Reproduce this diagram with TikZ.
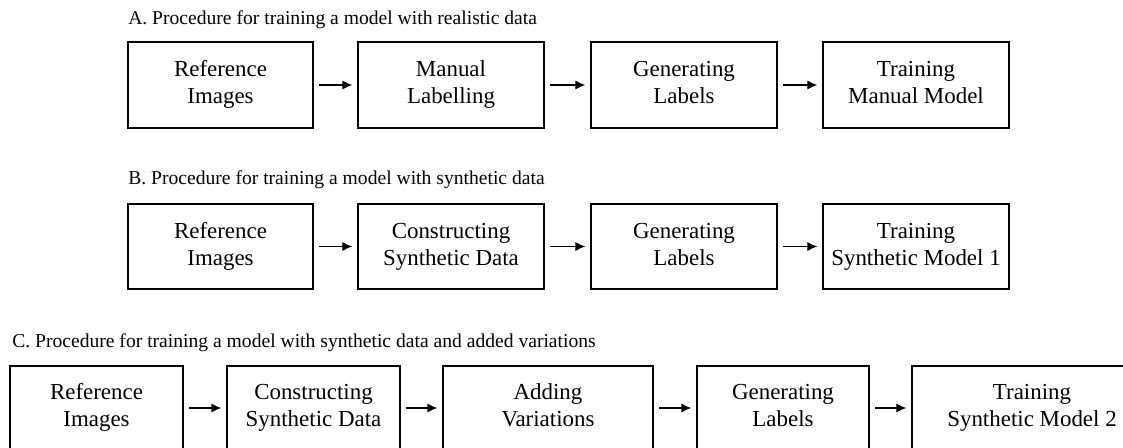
\documentclass[tikz,border=0pt]{standalone}
\usepackage{fontspec}
\setmainfont{Liberation Serif}
\usetikzlibrary{arrows.meta}
\newcommand{\twolines}[2]{\strut #1\\#2\strut}
\begin{document}
\begin{tikzpicture}[x=0.75pt,y=-0.75pt,
  procbox/.style={draw=black,line width=1.6pt,rectangle,align=center,inner sep=0pt,
    font=\fontsize{17.2pt}{20.25pt}\selectfont},
  flow/.style={line width=0.9pt,-{Latex[length=7.5pt,width=7pt]},shorten <=3.5pt,shorten >=3.5pt},
  ttl/.style={anchor=base west,inner sep=0pt,font=\fontsize{14.7pt}{17pt}\selectfont}]
\useasboundingbox (0,0) rectangle (1123,448);
\clip (0,0) rectangle (1123,448);
% Row A
\node[ttl] (ta) at (128,25) {A. Procedure for training a model with realistic data};
\node[procbox,minimum width=138.75pt,minimum height=64.5pt] (a1) at (220.5,85) {\twolines{Reference}{Images}};
\node[procbox,minimum width=139.5pt,minimum height=64.5pt] (a2) at (451,85) {\twolines{Manual}{Labelling}};
\node[procbox,minimum width=139.5pt,minimum height=64.5pt] (a3) at (684,85) {\twolines{Generating}{Labels}};
\node[procbox,minimum width=139.5pt,minimum height=64.5pt] (a4) at (916,85) {\twolines{Training}{Manual Model}};
\draw[flow] (a1) -- (a2);
\draw[flow] (a2) -- (a3);
\draw[flow] (a3) -- (a4);
% Row B
\node[ttl] (tb) at (128,185) {B. Procedure for training a model with synthetic data};
\node[procbox,minimum width=138.75pt,minimum height=63.75pt] (b1) at (220.5,246.5) {\twolines{Reference}{Images}};
\node[procbox,minimum width=139.5pt,minimum height=63.75pt] (b2) at (451,246.5) {\twolines{Constructing}{Synthetic Data}};
\node[procbox,minimum width=139.5pt,minimum height=63.75pt] (b3) at (684,246.5) {\twolines{Generating}{Labels}};
\node[procbox,minimum width=139.5pt,minimum height=63.75pt] (b4) at (916,246.5) {\twolines{Training}{Synthetic Model 1}};
\draw[flow] (b1) -- (b2);
\draw[flow] (b2) -- (b3);
\draw[flow] (b3) -- (b4);
% Row C
\node[ttl] (tc) at (12,348) {C. Procedure for training a model with synthetic data and added variations};
\node[procbox,minimum width=129.75pt,minimum height=63pt] (c1) at (96.5,408) {\twolines{Reference}{Images}};
\node[procbox,minimum width=129.75pt,minimum height=63pt] (c2) at (313.5,408) {\twolines{Constructing}{Synthetic Data}};
\node[procbox,minimum width=157.5pt,minimum height=63pt] (c3) at (548,408) {\twolines{Adding}{Variations}};
\node[procbox,minimum width=129pt,minimum height=63pt] (c4) at (783,408) {\twolines{Generating}{Labels}};
\node[procbox,minimum width=180pt,minimum height=63pt] (c5) at (1032,408) {\twolines{Training}{Synthetic Model 2}};
\draw[flow] (c1) -- (c2);
\draw[flow] (c2) -- (c3);
\draw[flow] (c3) -- (c4);
\draw[flow] (c4) -- (c5);
\end{tikzpicture}
\end{document}
